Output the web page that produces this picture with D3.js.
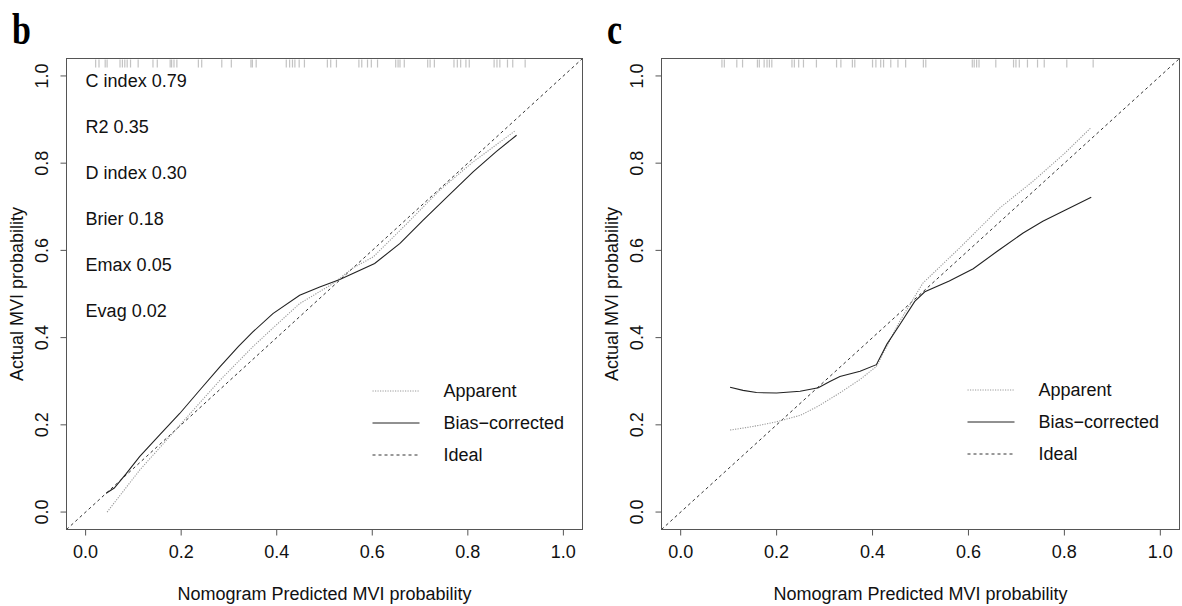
<!DOCTYPE html>
<html>
<head>
<meta charset="utf-8">
<script src="https://cdn.jsdelivr.net/npm/d3@7"></script>
<style>
  body { margin: 0; background: #fff; }
  svg text { font-family: "Liberation Sans", Arial, sans-serif; fill: #111; }
</style>
</head>
<body>
<svg id="chart" width="1182" height="606"></svg>
<script>
// tick values on both axes
const ticks = [0, 0.2, 0.4, 0.6, 0.8, 1.0];
const legendLabels = ['Apparent', 'Bias\u2212corrected', 'Ideal'];
const statsB = ['C index 0.79', 'R2 0.35', 'D index 0.30', 'Brier 0.18', 'Emax 0.05', 'Evag 0.02'];

// panel b (training)
const apparentBX = [0.045, 0.113, 0.197, 0.281, 0.350, 0.400, 0.448, 0.518, 0.560, 0.602, 0.672, 0.741, 0.810, 0.900];
const apparentBY = [0.000, 0.096, 0.199, 0.302, 0.379, 0.430, 0.478, 0.524, 0.560, 0.585, 0.661, 0.738, 0.802, 0.875];
const biasBX = [0.043, 0.060, 0.085, 0.113, 0.155, 0.197, 0.240, 0.281, 0.320, 0.350, 0.392, 0.448, 0.490, 0.532, 0.605, 0.658, 0.706, 0.760, 0.811, 0.860, 0.902];
const biasBY = [0.043, 0.055, 0.088, 0.127, 0.177, 0.226, 0.281, 0.333, 0.380, 0.413, 0.455, 0.497, 0.516, 0.533, 0.570, 0.616, 0.669, 0.726, 0.780, 0.827, 0.864];
const rugB = [0.021, 0.028, 0.041, 0.045, 0.072, 0.077, 0.082, 0.087, 0.094, 0.110, 0.141, 0.150,
  0.177, 0.180, 0.185, 0.191, 0.236, 0.243, 0.285, 0.305, 0.346, 0.349, 0.357, 0.420, 0.427,
  0.433, 0.438, 0.447, 0.458, 0.506, 0.513, 0.525, 0.572, 0.578, 0.590, 0.598, 0.611, 0.649,
  0.654, 0.658, 0.667, 0.716, 0.721, 0.730, 0.771, 0.778, 0.785, 0.796, 0.803, 0.855, 0.861,
  0.867, 0.883, 0.894, 0.920];

// panel c (validation)
const apparentCX = [0.103, 0.150, 0.200, 0.250, 0.287, 0.330, 0.374, 0.408, 0.457, 0.505, 0.582, 0.665, 0.734, 0.800, 0.856];
const apparentCY = [0.188, 0.196, 0.207, 0.222, 0.243, 0.272, 0.304, 0.334, 0.438, 0.525, 0.606, 0.697, 0.758, 0.822, 0.882];
const biasCX = [0.103, 0.130, 0.158, 0.200, 0.249, 0.287, 0.310, 0.332, 0.374, 0.408, 0.430, 0.457, 0.488, 0.509, 0.560, 0.610, 0.660, 0.714, 0.755, 0.856];
const biasCY = [0.286, 0.279, 0.274, 0.273, 0.277, 0.285, 0.299, 0.311, 0.323, 0.338, 0.385, 0.430, 0.483, 0.505, 0.530, 0.558, 0.598, 0.640, 0.667, 0.722];
const rugC = [0.086, 0.091, 0.117, 0.129, 0.160, 0.164, 0.174, 0.180, 0.185, 0.190, 0.232, 0.237,
  0.246, 0.256, 0.283, 0.325, 0.334, 0.358, 0.363, 0.400, 0.407, 0.417, 0.423, 0.438, 0.453,
  0.469, 0.506, 0.511, 0.608, 0.612, 0.617, 0.622, 0.657, 0.694, 0.699, 0.706, 0.723, 0.744,
  0.758, 0.805, 0.860];

const svg = d3.select('#chart');
svg.append('rect').attr('width', 1182).attr('height', 606).attr('fill', '#fff');

const zip = (xs, ys) => xs.map((v, i) => [v, ys[i]]);

function drawPanel(p) {
  const x = d3.scaleLinear().domain([-0.04, 1.04]).range([p.left, p.right]);
  const y = d3.scaleLinear().domain([-0.04, 1.04]).range([p.bottom, p.top]);
  const g = svg.append('g');

  // panel letter
  g.append('text')
    .attr('transform', `translate(${p.letterX},${p.letterY}) scale(0.85,1.12)`)
    .style('font-family', '"Liberation Serif", "Times New Roman", serif')
    .style('font-weight', 'bold')
    .style('font-size', '40px')
    .style('fill', '#000')
    .text(p.letter);

  // x axis ticks + labels
  const xa = g.append('g');
  xa.selectAll('line').data(ticks).enter().append('line')
    .attr('x1', d => x(d)).attr('x2', d => x(d))
    .attr('y1', p.bottom).attr('y2', p.bottom + 6)
    .attr('stroke', '#555');
  xa.selectAll('text').data(ticks).enter().append('text')
    .attr('x', d => x(d)).attr('y', p.bottom + 22)
    .attr('text-anchor', 'middle').attr('dominant-baseline', 'central')
    .style('font-size', '18px')
    .text(d => d.toFixed(1));

  // y axis ticks + labels (rotated like R)
  const ya = g.append('g');
  ya.selectAll('line').data(ticks).enter().append('line')
    .attr('x1', p.left - 6).attr('x2', p.left)
    .attr('y1', d => y(d)).attr('y2', d => y(d))
    .attr('stroke', '#555');
  ya.selectAll('text').data(ticks).enter().append('text')
    .attr('transform', d => `translate(${p.left - 25},${y(d)}) rotate(-90)`)
    .attr('text-anchor', 'middle').attr('dominant-baseline', 'central')
    .style('font-size', '18px')
    .text(d => d.toFixed(1));

  // axis titles
  g.append('text')
    .attr('x', (p.left + p.right) / 2).attr('y', p.bottom + 64)
    .attr('text-anchor', 'middle').attr('dominant-baseline', 'central')
    .style('font-size', '18px')
    .text('Nomogram Predicted MVI probability');
  g.append('text')
    .attr('transform', `translate(${p.left - 50},${(p.top + p.bottom) / 2}) rotate(-90)`)
    .attr('text-anchor', 'middle').attr('dominant-baseline', 'central')
    .style('font-size', '18px')
    .text('Actual MVI probability');

  // clip to plot region
  const clipId = 'clip-' + p.letter;
  svg.append('clipPath').attr('id', clipId).append('rect')
    .attr('x', p.left).attr('y', p.top)
    .attr('width', p.right - p.left).attr('height', p.bottom - p.top);
  const plot = g.append('g').attr('clip-path', `url(#${clipId})`);

  // rug of predicted values
  plot.selectAll('.rug').data(p.rug).enter().append('line')
    .attr('class', 'rug')
    .attr('x1', d => x(d)).attr('x2', d => x(d))
    .attr('y1', p.top + 1).attr('y2', p.top + 9)
    .attr('stroke', '#888').attr('stroke-opacity', 0.5).attr('stroke-width', 1.2);

  // ideal line
  plot.append('line')
    .attr('x1', x(-0.04)).attr('y1', y(-0.04))
    .attr('x2', x(1.04)).attr('y2', y(1.04))
    .attr('stroke', '#333').attr('stroke-dasharray', '3,3');

  const line = d3.line().x(d => x(d[0])).y(d => y(d[1]));

  plot.append('path')
    .datum(zip(p.appX, p.appY))
    .attr('d', line)
    .attr('fill', 'none').attr('stroke', '#999')
    .attr('stroke-width', 1.1).attr('stroke-dasharray', '1.2,1.3');

  plot.append('path')
    .datum(zip(p.biasX, p.biasY))
    .attr('d', line)
    .attr('fill', 'none').attr('stroke', '#222').attr('stroke-width', 1.1);

  // box
  g.append('rect')
    .attr('x', p.left).attr('y', p.top)
    .attr('width', p.right - p.left).attr('height', p.bottom - p.top)
    .attr('fill', 'none').attr('stroke', '#555');

  // stats text
  if (p.stats) {
    g.selectAll('.stat').data(p.stats).enter().append('text')
      .attr('class', 'stat')
      .attr('x', x(0)).attr('y', (d, i) => p.top + 22 + i * 46)
      .attr('dominant-baseline', 'central')
      .style('font-size', '18px')
      .text(d => d);
  }

  // legend
  const styles = [
    { stroke: '#999', dash: '1.2,1.3' },
    { stroke: '#222', dash: null },
    { stroke: '#333', dash: '3,3' }
  ];
  const lg = g.append('g');
  legendLabels.forEach((lab, i) => {
    const ly = p.legendY + i * 32;
    lg.append('line')
      .attr('x1', p.left + 306).attr('x2', p.left + 353)
      .attr('y1', ly).attr('y2', ly)
      .attr('stroke', styles[i].stroke)
      .attr('stroke-dasharray', styles[i].dash);
    lg.append('text')
      .attr('x', p.left + 377).attr('y', ly)
      .attr('dominant-baseline', 'central')
      .style('font-size', '18px')
      .text(lab);
  });
}

drawPanel({
  letter: 'b', letterX: 12, letterY: 44,
  left: 66.5, right: 582.5, top: 58.5, bottom: 529.5,
  appX: apparentBX, appY: apparentBY, biasX: biasBX, biasY: biasBY,
  rug: rugB, stats: statsB, legendY: 391
});

drawPanel({
  letter: 'c', letterX: 607, letterY: 44,
  left: 661.5, right: 1179.5, top: 58.5, bottom: 529.5,
  appX: apparentCX, appY: apparentCY, biasX: biasCX, biasY: biasCY,
  rug: rugC, stats: null, legendY: 390
});
</script>
</body>
</html>
